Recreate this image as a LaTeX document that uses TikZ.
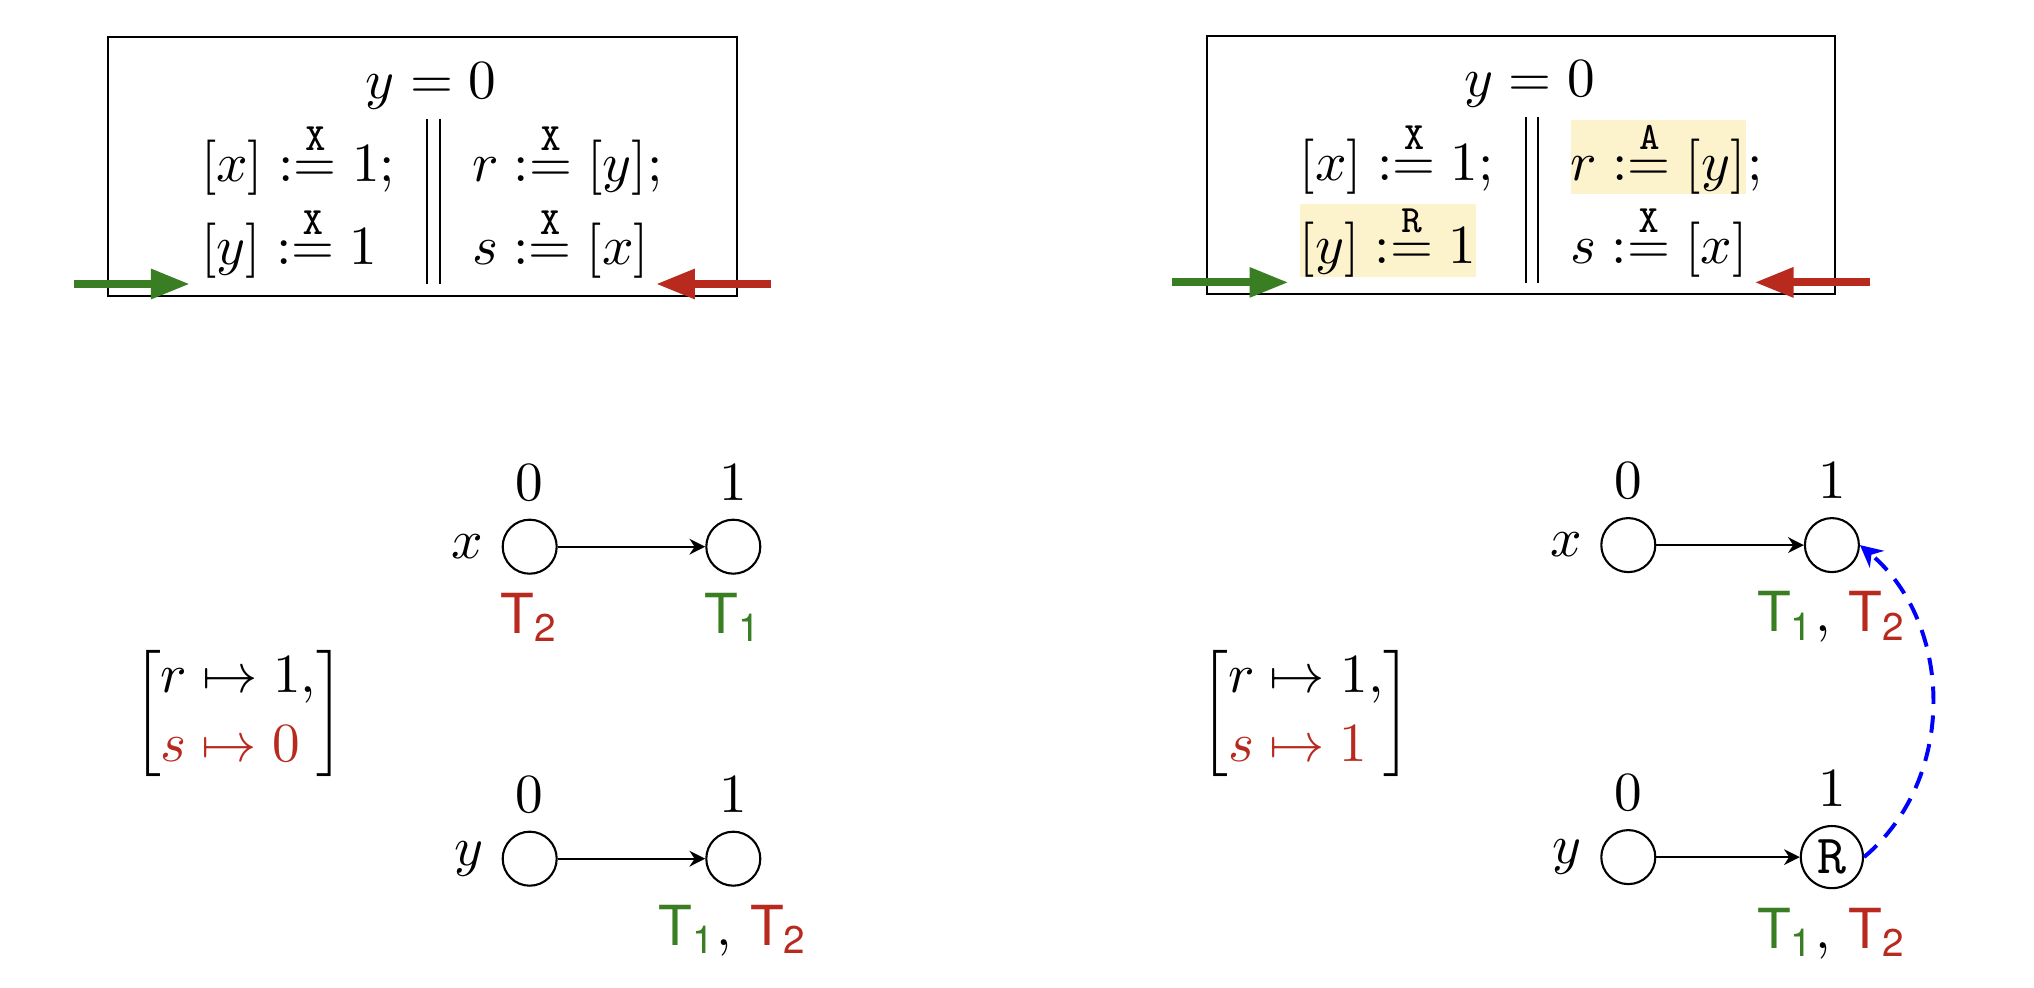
\RequirePackage{fix-cm}
\documentclass[tikz,border=0pt]{standalone}
\usepackage[no-math]{fontspec}
\usetikzlibrary{arrows.meta}
\newfontfamily\threadFont{TeX Gyre Heros}
\definecolor{threadGreen}{RGB}{58,126,35}
\definecolor{threadRed}{RGB}{184,41,30}
\definecolor{markYellow}{RGB}{252,242,204}
\def \subFont {\threadFont\fontsize{7.35}{9}\selectfont}
\def \tOneStr {{\color{threadGreen}\threadFont T$_{\mbox{\subFont 1}}$}}
\def \tTwoStr {{\color{threadRed}\threadFont T$_{\mbox{\subFont 2}}$}}
\def \initStr {$y = 0$}
\def \locSize {10.27pt}

\begin{document}
\begin{tikzpicture}[x=0.006686cm, y=-0.006686cm,
  every node/.style={font=\fontsize{10.5}{13}\selectfont},
  memLoc/.style={circle, draw, minimum size=\locSize, inner sep=1.2pt},
  progRow/.style={anchor=base west, inner sep=0pt},
  marked/.style={progRow, fill=markYellow},
  progArrow/.style={line width=1.5pt, -{Triangle[length=7.4pt,width=5.4pt]}},
  moEdge/.style={-{Stealth[length=3pt,width=3pt]}},
  rfEdge/.style={blue, line width=0.75pt, dash pattern=on 3.3pt off 2.2pt, -{Stealth[length=4.2pt,width=4.2pt]}}]

\useasboundingbox (0,0) rectangle (2034,988);

% before
\draw (108.2,37.3) rectangle (736.6,295.7);
\node[anchor=base] (linit) at (431,98.3) {\initStr};
\node[progRow] (l11) at (200,181.7) {$[x] :\stackrel{\mathtt{X}}{=} 1;$};
\node[progRow] (l12) at (200,265) {$[y] :\stackrel{\mathtt{X}}{=} 1$};
\node[progRow] (l21) at (471,181.7) {$r :\stackrel{\mathtt{X}}{=} [y];$};
\node[progRow] (l22) at (471,265) {$s :\stackrel{\mathtt{X}}{=} [x]$};
\draw (427,119) -- (427,284.3);
\draw (439.8,119) -- (439.8,284.3);

\coordinate (lgFrom) at (73.8,284);
\coordinate (lgTo) at (189.8,284);
\coordinate (lrFrom) at (771,284);
\coordinate (lrTo) at (656,284);
\draw[progArrow, threadGreen] (lgFrom) -- (lgTo);
\draw[progArrow, threadRed] (lrFrom) -- (lrTo);

\node[memLoc, label={above:$0$}, label={left:$x$}, label={below:\tTwoStr}] (lx0) at (529.7,546.7) {};
\node[memLoc, label={above:$1$}, label={below:\tOneStr}] (lx1) at (733.3,546.7) {};
\node[memLoc, label={above:$0$}, label={left:$y$}] (ly0) at (529.7,858.7) {};
\node[memLoc, label={above:$1$}, label={below:{\tOneStr, \tTwoStr}}] (ly1) at (733.3,858.7) {};
\draw[moEdge] (lx0) -- (lx1);
\draw[moEdge] (ly0) -- (ly1);

\node (lmem) at (238.4,713.3) {$\left[\begin{array}{@{}l@{}} r \mapsto 1,\\ \color{threadRed} s \mapsto 0 \end{array}\right]$};

% after
\begin{scope}[shift={(1098.6,-1.6)}]
\draw (108.2,37.3) rectangle (736.6,295.7);
\node[anchor=base] (rinit) at (431,98.3) {\initStr};
\node[progRow] (r11) at (200,181.7) {$[x] :\stackrel{\mathtt{X}}{=} 1;$};
\node[marked] (r12) at (200,265) {$[y] :\stackrel{\mathtt{R}}{=} 1$};
\node[marked] (r21) at (471,181.7) {$r :\stackrel{\mathtt{A}}{=} [y]$};
\node[progRow] (r21semi) at (r21.base east) {$;$};
\node[progRow] (r22) at (471,265) {$s :\stackrel{\mathtt{X}}{=} [x]$};
\draw (427,119) -- (427,284.3);
\draw (439.8,119) -- (439.8,284.3);

\coordinate (rgFrom) at (73.8,284);
\coordinate (rgTo) at (189.8,284);
\coordinate (rrFrom) at (771,284);
\coordinate (rrTo) at (656,284);
\draw[progArrow, threadGreen] (rgFrom) -- (rgTo);
\draw[progArrow, threadRed] (rrFrom) -- (rrTo);

\node[memLoc, label={above:$0$}, label={left:$x$}] (rx0) at (529.7,546.7) {};
\node[memLoc, label={above:$1$}, label={below:{\tOneStr, \tTwoStr}}] (rx1) at (733.3,546.7) {};
\node[memLoc, label={above:$0$}, label={left:$y$}] (ry0) at (529.7,858.7) {};
\node[memLoc, label={above:$1$}, label={below:{\tOneStr, \tTwoStr}}] (ry1) at (733.3,858.7) {$\mathtt{R}$};
\draw[moEdge] (rx0) -- (rx1);
\draw[moEdge] (ry0) -- (ry1);
\draw[rfEdge] (ry1.east) to[out=40,in=-40] (rx1.east);
\end{scope}

\node (rmem) at (1305.8,713.3) {$\left[\begin{array}{@{}l@{}} r \mapsto 1,\\ \color{threadRed} s \mapsto 1 \end{array}\right]$};

\end{tikzpicture}
\end{document}
